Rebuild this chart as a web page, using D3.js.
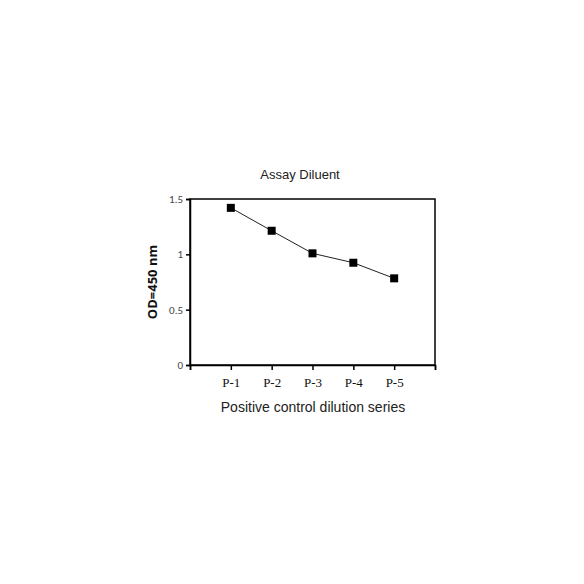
<!DOCTYPE html>
<html><head><meta charset="utf-8">
<script src="https://cdn.jsdelivr.net/npm/d3@7"></script>
<style>body{margin:0;background:#fff}svg{display:block}</style>
</head><body>
<script>
const categories = ["P-1","P-2","P-3","P-4","P-5"];
const values = [1.42, 1.213, 1.009, 0.924, 0.783];
const yTicks = [0, 0.5, 1, 1.5];
const yTickLabels = ["0","0.5","1","1.5"];
const title = "Assay Diluent";
const xTitle = "Positive control dilution series";
const yTitle = "OD=450 nm";

const W = 584, H = 584;
const m = {left:190, top:199, right:584-435, bottom:584-365};
const svg = d3.select("body").append("svg").attr("width",W).attr("height",H);
const x = d3.scaleLinear().domain([0,6]).range([m.left, W-m.right]);
const y = d3.scaleLinear().domain([0,1.5]).range([H-m.bottom, m.top]);

// box
svg.append("rect").attr("x",x(0)).attr("y",y(1.5)).attr("width",x(6)-x(0)).attr("height",y(0)-y(1.5))
  .attr("fill","none").attr("stroke","#000").attr("stroke-width",1.5);

const yAxis = svg.append("g").attr("transform",`translate(${x(0)},0)`)
  .call(d3.axisLeft(y).tickValues(yTicks).tickFormat((d,i)=>yTickLabels[i]).tickSize(4).tickPadding(3));
yAxis.select(".domain").attr("stroke-width",1.5);
yAxis.selectAll(".tick line").attr("stroke-width",1.5);
yAxis.selectAll("text").attr("font-family","Carlito, 'Open Sans', 'Liberation Sans', sans-serif").attr("font-size",11).attr("fill","#444");

const xAxis = svg.append("g").attr("transform",`translate(0,${y(0)})`)
  .call(d3.axisBottom(x).tickValues([0,1,2,3,4,5,6]).tickFormat(d=> (d>=1&&d<=5)?categories[d-1]:"").tickSize(5).tickPadding(8));
xAxis.select(".domain").attr("stroke-width",1.5);
xAxis.selectAll(".tick line").attr("stroke-width",1.5);
xAxis.selectAll("text").attr("font-family","'Liberation Serif', 'DejaVu Serif', serif").attr("font-size",13).attr("fill","#111");

const pts = values.map((v,i)=>[x(i+1), y(v)]);
svg.append("path").attr("d", d3.line()(pts)).attr("fill","none").attr("stroke","#222").attr("stroke-width",1);
const s = 8;
svg.selectAll("rect.pt").data(values).enter().append("rect").attr("class","pt")
  .attr("x",(d,i)=>x(i+1)-s/2).attr("y",d=>y(d)-s/2).attr("width",s).attr("height",s).attr("fill","#000");

svg.append("text").attr("x",300).attr("y",179).attr("text-anchor","middle")
  .attr("font-family","'Liberation Sans', Arial, sans-serif").attr("font-size",13).attr("fill","#222").text(title);
svg.append("text").attr("x",313).attr("y",412).attr("text-anchor","middle")
  .attr("font-family","'Liberation Sans', Arial, sans-serif").attr("font-size",14).attr("fill","#222").text(xTitle);
svg.append("text").attr("transform",`translate(157,${(y(0)+y(1.5))/2}) rotate(-90)`).attr("text-anchor","middle")
  .attr("font-family","'Open Sans', 'Liberation Sans', sans-serif").attr("font-weight","bold").attr("font-size",13).attr("fill","#111").text(yTitle);
</script>
</body></html>
